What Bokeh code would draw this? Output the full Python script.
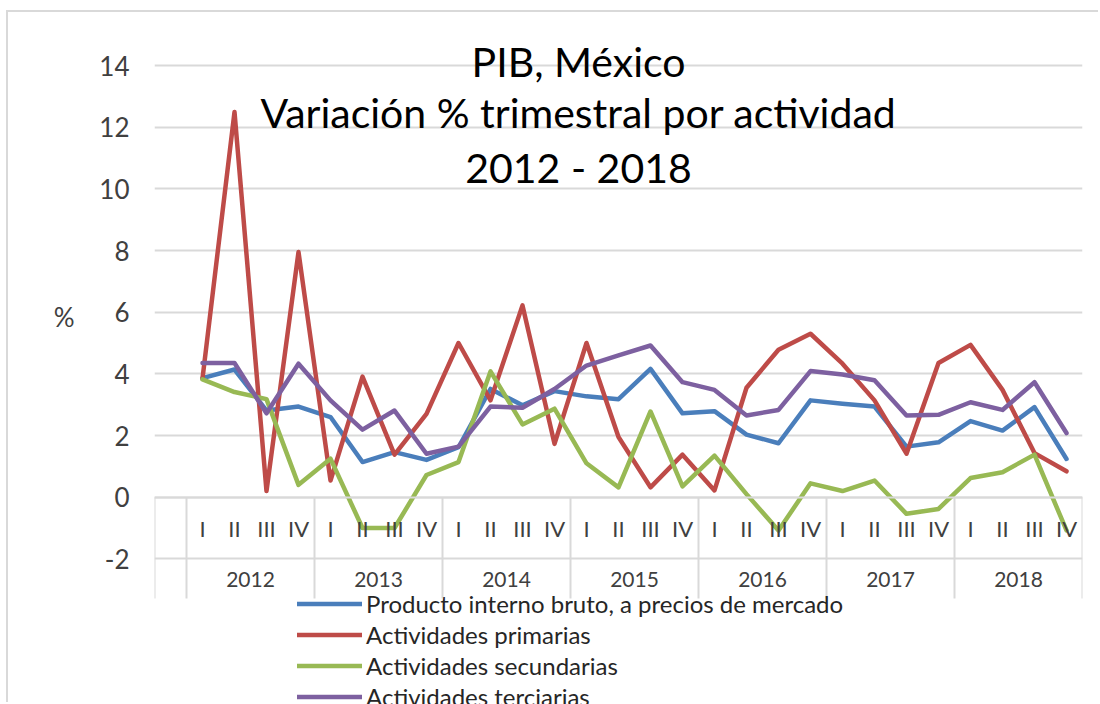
from bokeh.plotting import figure
from bokeh.models import Range1d, LinearAxis, FixedTicker, Label, Legend, LegendItem, Grid
from bokeh.embed import file_html
from bokeh.resources import INLINE

# ---------------- data ----------------
years = ["2012", "2013", "2014", "2015", "2016", "2017", "2018"]
quarter_names = ["I", "II", "III", "IV"]
quarters = [q for y in years for q in quarter_names]

pib = [3.86, 4.14, 2.81, 2.94, 2.60, 1.14, 1.46, 1.21,
       1.62, 3.51, 2.98, 3.44, 3.27, 3.18, 4.16, 2.72,
       2.79, 2.03, 1.75, 3.14, 3.03, 2.94, 1.64, 1.78,
       2.47, 2.16, 2.92, 1.24]
primarias = [3.85, 12.49, 0.20, 7.95, 0.54, 3.91, 1.38, 2.70,
             5.00, 3.14, 6.22, 1.73, 5.00, 1.95, 0.32, 1.38,
             0.22, 3.55, 4.78, 5.30, 4.33, 3.14, 1.41, 4.35,
             4.94, 3.48, 1.43, 0.84]
secundarias = [3.82, 3.41, 3.18, 0.40, 1.25, -1.00, -1.00, 0.72,
               1.14, 4.08, 2.36, 2.87, 1.10, 0.32, 2.78, 0.35,
               1.35, 0.10, -1.08, 0.45, 0.20, 0.54, -0.54, -0.38,
               0.62, 0.81, 1.38, -1.08]
terciarias = [4.35, 4.35, 2.72, 4.33, 3.14, 2.19, 2.81, 1.41,
              1.64, 2.94, 2.90, 3.51, 4.27, 4.60, 4.92, 3.73,
              3.48, 2.65, 2.83, 4.09, 3.98, 3.79, 2.65, 2.67,
              3.08, 2.83, 3.73, 2.08]

series_names = ["Producto interno bruto, a precios de mercado",
                "Actividades primarias",
                "Actividades secundarias",
                "Actividades terciarias"]
series_colors = ["#4A7EBB", "#BE4B48", "#98B954", "#7D60A0"]
y_ticks = [-2, 0, 2, 4, 6, 8, 10, 12, 14]
y_unit = "%"
title_lines = ["PIB, México", "Variación % trimestral por actividad", "2012 - 2018"]

# ---------------- figure ----------------
n = len(quarters)
x = list(range(n))
y_bottom = -6.723       # bottom of the drawing area (legend lives here)
cat_bottom = -3.285     # bottom of the category-axis box
y_top = 14.973

p = figure(width=1092, height=692, output_backend="svg", toolbar_location=None,
           x_range=Range1d(-1.5, n - 0.5), y_range=Range1d(y_bottom, y_top),
           x_axis_type=None, y_axis_type=None,
           min_border_left=146, min_border_right=18, min_border_top=23, min_border_bottom=0)
p.outline_line_color = None
p.background_fill_color = "white"
p.border_fill_color = "white"
p.styles = {"margin-left": "6px", "margin-top": "10px",
            "border-left": "2px solid #d9d9d9", "border-top": "2px solid #d9d9d9"}

grid_color = "#d9d9d9"
txt_color = "#404040"

# y axis
yaxis = LinearAxis(ticker=FixedTicker(ticks=y_ticks),
                   major_label_overrides={-2: "-2"},
                   axis_line_color=None, major_tick_line_color=None, minor_tick_line_color=None,
                   major_tick_out=0, major_tick_in=0,
                   major_label_standoff=25, major_label_text_font="Lato",
                   major_label_text_font_size="26px", major_label_text_color=txt_color)
p.add_layout(yaxis, "left")
# unit label of the value axis, placed beside the "6" tick
unit_pos = 5.86
uaxis = LinearAxis(ticker=FixedTicker(ticks=[unit_pos]),
                   major_label_overrides={unit_pos: y_unit},
                   axis_line_color=None, major_tick_line_color=None, minor_tick_line_color=None,
                   major_tick_out=0, major_tick_in=0,
                   major_label_standoff=22, major_label_text_font="Lato",
                   major_label_text_font_size="26px", major_label_text_color=txt_color)
p.add_layout(uaxis, "left")
p.add_layout(Grid(dimension=1, ticker=FixedTicker(ticks=y_ticks),
                  grid_line_color=grid_color, grid_line_width=2))

# year separators of the category axis box
seps = [-1.5] + [i - 0.5 for i, q in enumerate(quarters) if q == "I"] + [n - 0.5]
p.segment(x0=seps, y0=[0] * len(seps), x1=seps, y1=[cat_bottom] * len(seps),
          line_color=grid_color, line_width=2)

# quarter axis at y = 0
qaxis = LinearAxis(ticker=FixedTicker(ticks=x),
                   major_label_overrides={i: q for i, q in enumerate(quarters)},
                   fixed_location=0, axis_line_color=grid_color, axis_line_width=2,
                   major_tick_line_color=None, minor_tick_line_color=None,
                   major_label_standoff=12, major_label_text_font="Lato",
                   major_label_text_font_size="22px", major_label_text_color=txt_color)
p.add_layout(qaxis, "below")

# year axis at y = -2
year_pos = [4 * k + 1.5 for k in range(len(years))]
yraxis = LinearAxis(ticker=FixedTicker(ticks=year_pos),
                    major_label_overrides={pos: yr for pos, yr in zip(year_pos, years)},
                    fixed_location=-2, axis_line_color=None,
                    major_tick_line_color=None, minor_tick_line_color=None,
                    major_label_standoff=7, major_label_text_font="Lato",
                    major_label_text_font_size="21px", major_label_text_color=txt_color)
p.add_layout(yraxis, "below")

# series
renderers = []
for vals, col in zip([pib, primarias, secundarias, terciarias], series_colors):
    r = p.line(x, vals, line_color=col, line_width=4.5, line_join="round", line_cap="round")
    renderers.append(r)

# title inside the plot area
for txt, yy in zip(title_lines, [14.12, 12.49, 10.70]):
    p.add_layout(Label(x=11.75, y=yy, text=txt, text_font="Lato", text_font_size="41px",
                       text_align="center", text_baseline="middle", text_color="black"))

legend = Legend(items=[LegendItem(label=nm, renderers=[r]) for nm, r in zip(series_names, renderers)],
                location=(143, -8), orientation="vertical", padding=0, margin=0, spacing=0,
                glyph_width=65, glyph_height=31, label_height=31, label_standoff=4,
                label_text_font="Lato", label_text_font_size="24px", label_text_color="#262626",
                border_line_color=None, background_fill_alpha=0)
p.add_layout(legend)

open("out.html", "w").write(file_html(p, INLINE))
